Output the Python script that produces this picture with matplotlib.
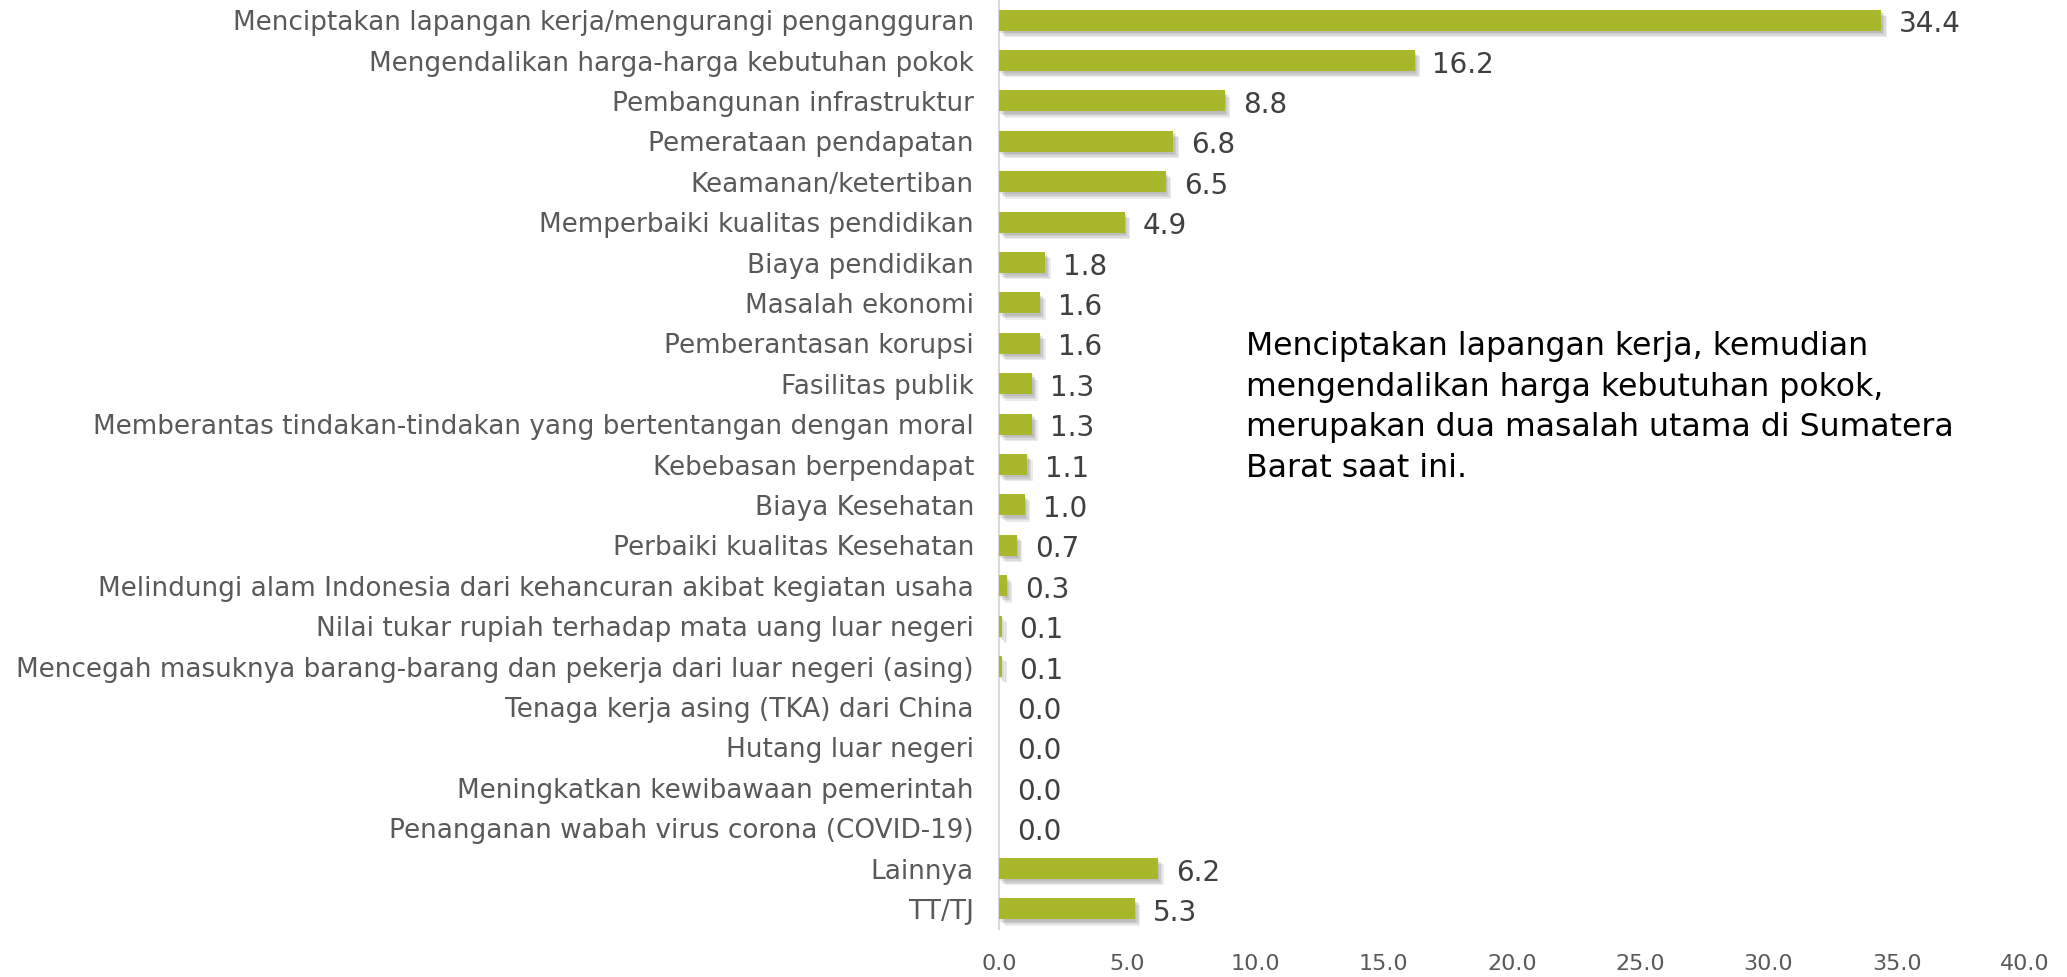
import matplotlib.pyplot as plt
import matplotlib.patheffects as pe

categories = [
    'Menciptakan lapangan kerja/mengurangi pengangguran',
    'Mengendalikan harga-harga kebutuhan pokok',
    'Pembangunan infrastruktur',
    'Pemerataan pendapatan',
    'Keamanan/ketertiban',
    'Memperbaiki kualitas pendidikan',
    'Biaya pendidikan',
    'Masalah ekonomi',
    'Pemberantasan korupsi',
    'Fasilitas publik',
    'Memberantas tindakan-tindakan yang bertentangan dengan moral',
    'Kebebasan berpendapat',
    'Biaya Kesehatan',
    'Perbaiki kualitas Kesehatan',
    'Melindungi alam Indonesia dari kehancuran akibat kegiatan usaha',
    'Nilai tukar rupiah terhadap mata uang luar negeri',
    'Mencegah masuknya barang-barang dan pekerja dari luar negeri (asing)',
    'Tenaga kerja asing (TKA) dari China',
    'Hutang luar negeri',
    'Meningkatkan kewibawaan pemerintah',
    'Penanganan wabah virus corona (COVID-19)',
    'Lainnya',
    'TT/TJ',
]
values = [34.4, 16.2, 8.8, 6.8, 6.5, 4.9, 1.8, 1.6, 1.6, 1.3, 1.3, 1.1, 1.0,
          0.7, 0.3, 0.1, 0.1, 0.0, 0.0, 0.0, 0.0, 6.2, 5.3]
xticks = [0, 5, 10, 15, 20, 25, 30, 35, 40]

note = ('Menciptakan lapangan kerja, kemudian\n'
        'mengendalikan harga kebutuhan pokok,\n'
        'merupakan dua masalah utama di Sumatera\n'
        'Barat saat ini.')

plt.rcParams['font.family'] = ['DejaVu Sans']

fig = plt.figure(figsize=(20.67, 9.77), dpi=100)
ax = fig.add_axes([0.4833, 0.049, 0.4964, 0.951])

ypos = list(range(len(categories)))
bars = ax.barh(ypos, values, height=0.52, color='#A8B82A', zorder=3)
# soft drop shadow, built from a few faint offset copies
shadow = [pe.SimplePatchShadow(offset=(dx, -dy), shadow_rgbFace='#606060', alpha=0.12)
          for dx, dy in [(1, 1.5), (2, 2.5), (3, 3.5), (4, 4.5)]]
for b in bars:
    b.set_path_effects(shadow + [pe.Normal()])

for y, v in zip(ypos, values):
    ax.text(v + 0.7, y + 0.1, '%.1f' % v, va='center', ha='left',
            fontsize=20, color='#404040')

ax.set_xlim(0, 40)
ax.set_ylim(len(categories) - 0.5, -0.5)
ax.set_yticks(ypos)
ax.set_yticklabels(categories, fontsize=18.9, color='#595959')
ax.set_xticks(xticks)
ax.set_xticklabels(['%.1f' % t for t in xticks], fontsize=16, color='#595959')
ax.tick_params(axis='both', length=0)
ax.tick_params(axis='y', pad=18)
ax.tick_params(axis='x', pad=18)

for s in ['top', 'right', 'bottom']:
    ax.spines[s].set_visible(False)
ax.spines['left'].set_color('#D9D9D9')
ax.spines['left'].set_linewidth(1.5)

fig.text(1246 / 2067, 1 - 331 / 977, note, fontsize=22.7, color='#000000',
         va='top', ha='left', linespacing=1.4)

fig.savefig('out.png', dpi=100, facecolor='white')
